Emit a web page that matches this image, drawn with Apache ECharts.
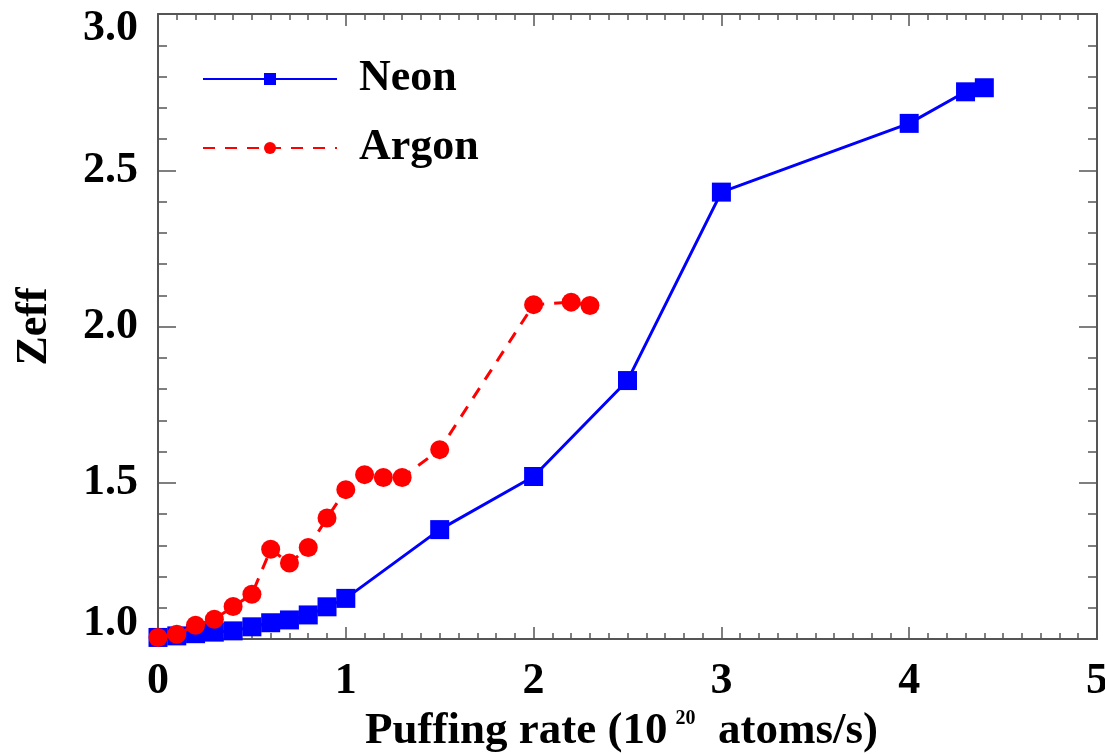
<!DOCTYPE html>
<html>
<head>
<meta charset="utf-8">
<script src="https://cdn.jsdelivr.net/npm/echarts@6/dist/echarts.min.js"></script>
<style>
  html, body { margin: 0; padding: 0; background: #fff; }
  #chart { width: 1105px; height: 754px; }
</style>
</head>
<body>
<div id="chart"></div>
<script>
// Puffing rate (10^20 atoms/s) and measured Zeff for each impurity gas
const neonRate  = [0, 0.1, 0.2, 0.3, 0.4, 0.5, 0.6, 0.7, 0.8, 0.9, 1.0, 1.5, 2.0, 2.5, 3.0, 4.0, 4.3, 4.4];
const neonZeff  = [1.005, 1.01, 1.017, 1.022, 1.026, 1.039, 1.052, 1.061, 1.077, 1.103, 1.13, 1.35, 1.52, 1.827, 2.43, 2.65, 2.751, 2.764];

const argonRate = [0, 0.1, 0.2, 0.3, 0.4, 0.5, 0.6, 0.7, 0.8, 0.9, 1.0, 1.1, 1.2, 1.3, 1.5, 2.0, 2.2, 2.3];
const argonZeff = [1.005, 1.015, 1.044, 1.063, 1.104, 1.143, 1.287, 1.243, 1.293, 1.387, 1.478, 1.526, 1.517, 1.517, 1.606, 2.07, 2.078, 2.067];

const xTicks = [0, 1, 2, 3, 4, 5];
const yTicks = [1.0, 1.5, 2.0, 2.5, 3.0];

const FONT = '"Liberation Serif", "DejaVu Serif", serif';
const AXIS_COLOR = '#555';

const pairs = (xs, ys) => xs.map((x, i) => [x, ys[i]]);

const xBase = {
  type: 'value',
  min: xTicks[0],
  max: xTicks[xTicks.length - 1],
  interval: xTicks[1] - xTicks[0],
  axisLine: { show: true, onZero: false, lineStyle: { color: AXIS_COLOR, width: 2 } },
  axisTick: { show: true, inside: true, length: 12, lineStyle: { color: AXIS_COLOR, width: 1.5 } },
  minorTick: { show: true, splitNumber: 10, length: 6, lineStyle: { color: AXIS_COLOR, width: 1.5 } },
  splitLine: { show: false }
};

const yBase = {
  type: 'value',
  min: yTicks[0],
  max: yTicks[yTicks.length - 1],
  interval: yTicks[1] - yTicks[0],
  axisLine: { show: true, onZero: false, lineStyle: { color: AXIS_COLOR, width: 2 } },
  axisTick: { show: true, inside: true, length: 18, lineStyle: { color: AXIS_COLOR, width: 1.5 } },
  minorTick: { show: true, splitNumber: 5, length: 9, lineStyle: { color: AXIS_COLOR, width: 1.5 } },
  splitLine: { show: false }
};

const chart = echarts.init(document.getElementById('chart'), null, { renderer: 'canvas' });

chart.setOption({
  backgroundColor: '#fff',
  animation: false,
  grid: { left: 158, right: 8, top: 14, bottom: 115, containLabel: false, outerBoundsMode: 'none' },
  legend: {
    orient: 'vertical',
    left: 197,
    top: 52,
    itemWidth: 134,
    itemHeight: 15,
    itemGap: 25,
    data: ['Neon', 'Argon'],
    lineStyle: { width: 2 },
    textStyle: {
      fontFamily: FONT, fontWeight: 'bold', fontSize: 44, color: '#000',
      padding: [0, 0, 0, 17]
    }
  },
  xAxis: [
    Object.assign({}, xBase, {
      position: 'bottom',
      name: '{a|Puffing rate (10}{s|20}{a|  atoms/s)}',
      nameLocation: 'middle',
      nameGap: 68,
      nameTextStyle: {
        padding: [0, 12, 0, 0],
        rich: {
          a: { fontFamily: FONT, fontWeight: 'bold', fontSize: 45, color: '#000' },
          s: { fontFamily: FONT, fontWeight: 'bold', fontSize: 20, color: '#000',
               verticalAlign: 'top', padding: [0, 0, 0, 8] }
        }
      },
      axisLabel: {
        show: true, margin: 21, color: '#000',
        fontFamily: FONT, fontWeight: 'bold', fontSize: 44,
        formatter: v => String(v)
      }
    }),
    Object.assign({}, xBase, {
      position: 'top',
      axisLabel: { show: false }
    })
  ],
  yAxis: [
    Object.assign({}, yBase, {
      position: 'left',
      name: 'Zeff',
      nameLocation: 'middle',
      nameGap: 101,
      nameTextStyle: { fontFamily: FONT, fontWeight: 'bold', fontSize: 44, color: '#000' },
      axisLabel: {
        show: true, margin: 20, color: '#000',
        fontFamily: FONT, fontWeight: 'bold', fontSize: 44, lineHeight: 30,
        formatter: v => v.toFixed(1),
        verticalAlignMinLabel: 'bottom',
        verticalAlignMaxLabel: 'top'
      }
    }),
    Object.assign({}, yBase, {
      position: 'right',
      axisLabel: { show: false }
    })
  ],
  series: [
    {
      name: 'Neon',
      type: 'line',
      data: pairs(neonRate, neonZeff),
      symbol: 'rect',
      symbolSize: 19,
      lineStyle: { color: '#0000ff', width: 3 },
      itemStyle: { color: '#0000ff' },
      z: 3
    },
    {
      name: 'Argon',
      type: 'line',
      data: pairs(argonRate, argonZeff),
      symbol: 'circle',
      symbolSize: 19,
      lineStyle: { color: '#ff0000', width: 3, type: [12, 10] },
      itemStyle: { color: '#ff0000' },
      z: 4
    }
  ]
});
</script>
</body>
</html>
